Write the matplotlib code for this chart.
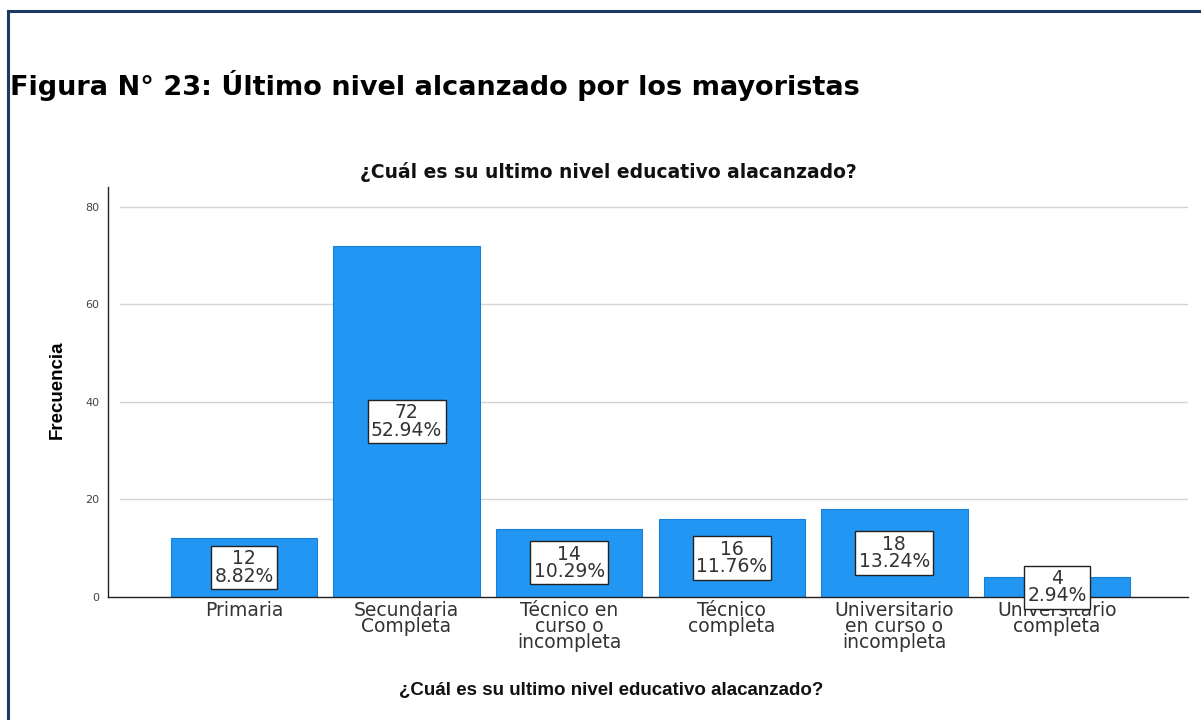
#Importing Libraries
import matplotlib
matplotlib.use('Agg')
import matplotlib.pyplot as plt
from matplotlib.lines import Line2D

#Data
categorias=['Primaria','Secundaria\nCompleta','Técnico en\ncurso o\nincompleta','Técnico\ncompleta','Universitario\nen curso o\nincompleta','Universitario\ncompleta']
frecuencias=[12,72,14,16,18,4]
porcentajes=['8.82%','52.94%','10.29%','11.76%','13.24%','2.94%']
y_ticks=[0,20,40,60,80]

#Figure
W,H=1201,720
fig=plt.figure(figsize=(W/100,H/100),dpi=100)
fig.patch.set_facecolor('white')
ax=fig.add_axes([108/W,1-597/H,1080/W,410/H])

#Bars
x=list(range(len(categorias)))
ax.bar(x,frecuencias,width=0.9,color='#2196F3',edgecolor='#1a80d6',linewidth=0.8,zorder=2)
ax.set_xlim(-0.836,5.806)
ax.set_ylim(0,84.1)

#Grid lines
for t in y_ticks[1:]:
    ax.axhline(t,xmin=0.011,xmax=1,color='#d4d4d4',linewidth=1,zorder=1)

#Value boxes
for i,(v,p) in enumerate(zip(frecuencias,porcentajes)):
    ax.text(i,v/2,str(v)+'\n'+p,ha='center',va='center',fontsize=13.5,color='#333333',
            family='DejaVu Sans',linespacing=0.9,zorder=4,
            bbox=dict(boxstyle='square,pad=0.18',facecolor='white',edgecolor='#222222',linewidth=1))

#Axes styling
ax.spines[['top','right']].set_visible(False)
ax.spines['left'].set_color('#222222')
ax.spines['bottom'].set_color('#222222')
ax.spines[['left','bottom']].set_linewidth(1)
ax.set_yticks(y_ticks)
ax.set_yticklabels([str(t) for t in y_ticks],fontsize=8,color='#444444',family='DejaVu Sans')
ax.tick_params(axis='y',length=0,pad=6)
ax.set_xticks(x)
ax.set_xticklabels(categorias,fontsize=13.5,color='#333333',family='DejaVu Sans',linespacing=0.8)
ax.tick_params(axis='x',length=0,pad=3)

ax.set_ylabel('Frecuencia',fontsize=13.5,fontweight='bold',family='Liberation Sans',labelpad=0)
ax.yaxis.set_label_coords((66-108)/1080,0.505)

#Titles
fig.text(10/W,1-95/H,'Figura N° 23: Último nivel alcanzado por los mayoristas',fontsize=19.5,
         fontweight='bold',family='DejaVu Sans',ha='left',va='baseline')
fig.text(608/W,1-172/H,'¿Cuál es su ultimo nivel educativo alacanzado?',fontsize=13.5,
         fontweight='bold',family='DejaVu Sans',ha='center',va='center',color='#111111')
fig.text(611/W,1-690/H,'¿Cuál es su ultimo nivel educativo alacanzado?',fontsize=13.5,
         fontweight='bold',family='Liberation Sans',ha='center',va='center',color='#111111')

#Frame
fig.add_artist(Line2D([8/W,1],[1-11/H,1-11/H],color='#1F3864',linewidth=2.2))
fig.add_artist(Line2D([8/W,8/W],[0,1-11/H],color='#1F3864',linewidth=2.2))

fig.savefig('out.png',dpi=100)
